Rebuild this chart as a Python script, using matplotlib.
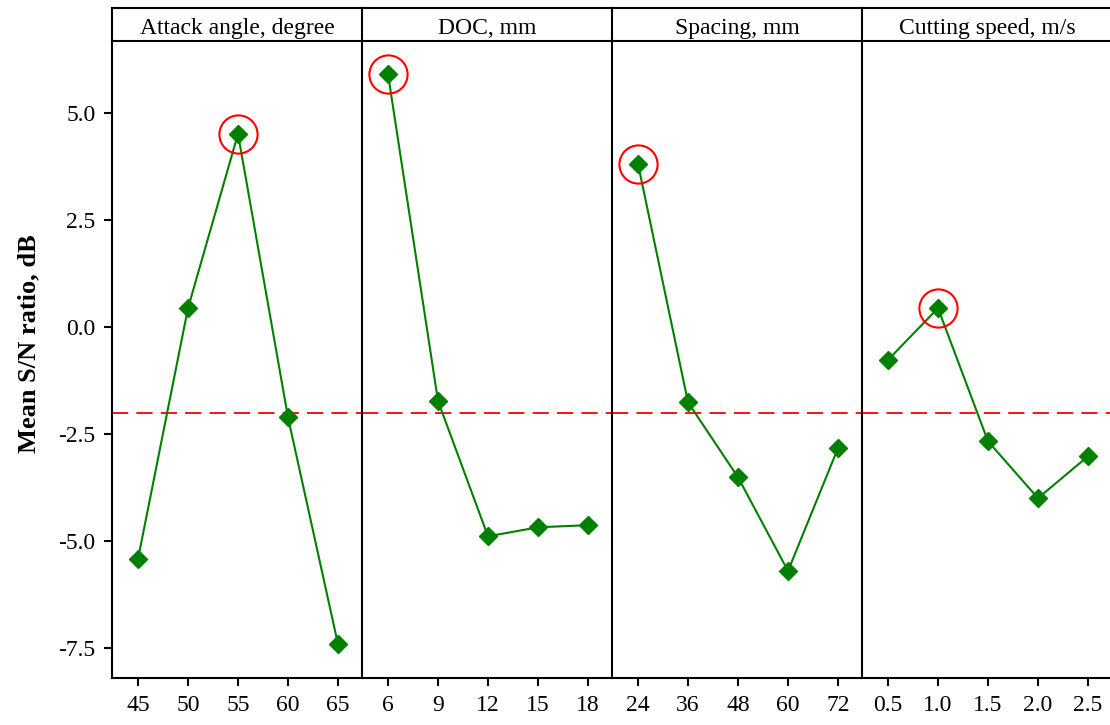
import matplotlib.pyplot as plt

plt.rcParams['font.family'] = ['Liberation Serif', 'DejaVu Serif']

titles = ['Attack angle, degree', 'DOC, mm', 'Spacing, mm', 'Cutting speed, m/s']
levels = [
    ['45', '50', '55', '60', '65'],
    ['6', '9', '12', '15', '18'],
    ['24', '36', '48', '60', '72'],
    ['0.5', '1.0', '1.5', '2.0', '2.5'],
]
attack = [-5.42, 0.44, 4.51, -2.11, -7.41]
doc = [5.91, -1.73, -4.89, -4.68, -4.63]
spacing = [3.81, -1.76, -3.51, -5.70, -2.83]
speed = [-0.77, 0.44, -2.67, -4.00, -3.02]
series = [attack, doc, spacing, speed]
best = [2, 0, 0, 1]
mean_sn = -2.0

fig = plt.figure(figsize=(11.1, 7.25), dpi=100)
W, H = 1110, 725
x0, pw = 112, 250
top, bot, htop = 41, 678, 8

for i in range(4):
    left = (x0 + i * pw) / W
    ax = fig.add_axes([left, 1 - bot / H, pw / W, (bot - top) / H])
    hx = fig.add_axes([left, 1 - top / H, pw / W, (top - htop) / H])

    vals = series[i]
    xs = range(len(vals))
    ax.plot(xs, vals, color='#008000', lw=1.5, marker='D', ms=9, zorder=3)
    ax.plot(best[i], vals[best[i]], marker='o', ms=27.5, mfc='none',
            mec='red', mew=1.5, zorder=4)
    ax.axhline(mean_sn, color='red', ls=(0, (9, 4.5)), lw=1.3, zorder=2)

    ax.set_xlim(-0.52, 4.48)
    ax.set_ylim(-8.2, 6.68)
    ax.set_xticks(list(xs))
    ax.set_xticklabels(levels[i], fontsize=17)
    ax.set_yticks([-7.5, -5.0, -2.5, 0.0, 2.5, 5.0])
    ax.set_yticklabels(['-7.5', '-5.0', '-2.5', '0.0', '2.5', '5.0'], fontsize=17)
    ax.tick_params(direction='out', length=6, width=1.5, pad=6)
    for s in ['top', 'right']:
        ax.spines[s].set_visible(False)
    for s in ['left', 'bottom']:
        ax.spines[s].set_linewidth(1.5)
    if i > 0:
        ax.tick_params(axis='y', left=False, labelleft=False)
    else:
        ax.set_ylabel('Mean S/N ratio, dB', fontsize=19, fontweight='bold')
        ax.yaxis.set_label_coords(-0.285, 0.525)

    hx.set_xticks([])
    hx.set_yticks([])
    hx.spines['right'].set_visible(False)
    for s in ['top', 'left', 'bottom']:
        hx.spines[s].set_linewidth(1.5)
    hx.text(0.5, 0.38, titles[i], ha='center', va='center', fontsize=17,
            transform=hx.transAxes)

fig.savefig('out.png', dpi=100)
